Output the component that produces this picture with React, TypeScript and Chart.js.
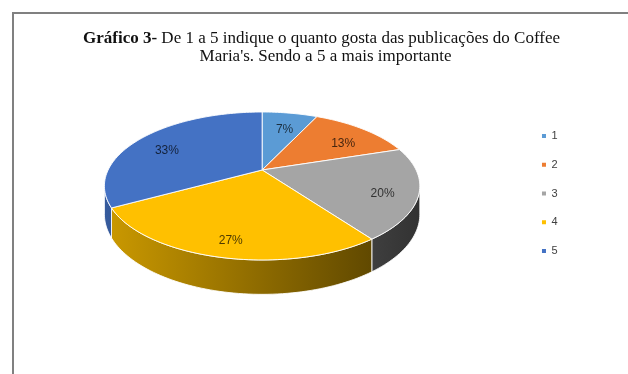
import React, { useEffect, useRef } from "react";
import { Chart, registerables } from "chart.js";

Chart.register(...registerables);

// ---- data ----
const categories = ["1", "2", "3", "4", "5"];
const values = [7, 13, 20, 27, 33];
const sliceColors = ["#5B9BD5", "#ED7D31", "#A5A5A5", "#FFC000", "#4472C4"];
const titleBold = "Gráfico 3-";
const titleLine1 = " De 1 a 5 indique o quanto gosta das publicações do Coffee";
const titleLine2 = "Maria's. Sendo a 5 a mais importante";

// ---- 3D projection parameters (relative to the arc radius) ----
const TILT = 0.458;
const PERSP = 0.216;
const DEPTH = 0.175;
const APEX_SHIFT = 0.1526;
const LABEL_R = 0.78;

function hexToRgb(h: string): number[] {
  const s = h.replace("#", "");
  return [0, 2, 4].map((i) => parseInt(s.slice(i, i + 2), 16));
}
function shade(hex: string, f: number): string {
  const [r, g, b] = hexToRgb(hex);
  return `rgb(${Math.round(r * f)},${Math.round(g * f)},${Math.round(b * f)})`;
}

const pie3d = {
  id: "pie3d",
  beforeDatasetsDraw(chart: any) {
    const meta = chart.getDatasetMeta(0);
    const arcs = meta.data as any[];
    if (!arcs.length) return false;
    const ctx: CanvasRenderingContext2D = chart.ctx;
    const R = arcs[0].outerRadius;
    const cx = arcs[0].x;
    const cy = arcs[0].y - R * APEX_SHIFT;
    const Rk = R * TILT;
    const D = R * DEPTH;
    const P = (th: number, f: number, h: number) => {
      const s = 1 / (1 - PERSP * f * Math.sin(th));
      return [cx + R * f * Math.cos(th) * s, cy + (Rk * f * Math.sin(th) + h) * s];
    };
    const vis0 = Math.asin(PERSP);
    const vis1 = Math.PI - vis0;
    ctx.save();
    // walls
    arcs.forEach((arc, i) => {
      const color = sliceColors[i];
      const t1 = Math.max(arc.startAngle, vis0);
      const t2 = Math.min(arc.endAngle, vis1);
      if (t2 <= t1) return;
      const n = Math.max(4, Math.ceil((t2 - t1) * 40));
      ctx.beginPath();
      for (let k = 0; k <= n; k++) {
        const th = t1 + ((t2 - t1) * k) / n;
        const [x, y] = P(th, 1, 0);
        if (k === 0) ctx.moveTo(x, y);
        else ctx.lineTo(x, y);
      }
      for (let k = n; k >= 0; k--) {
        const th = t1 + ((t2 - t1) * k) / n;
        const [x, y] = P(th, 1, D);
        ctx.lineTo(x, y);
      }
      ctx.closePath();
      const g = ctx.createLinearGradient(cx - R * 1.03, 0, cx + R * 1.03, 0);
      g.addColorStop(0, shade(color, 0.8));
      g.addColorStop(1, shade(color, 0.3));
      ctx.fillStyle = g;
      ctx.fill();
      ctx.strokeStyle = "rgba(255,255,255,0.85)";
      ctx.lineWidth = 1;
      ctx.stroke();
    });
    // top faces
    arcs.forEach((arc, i) => {
      const color = sliceColors[i];
      const t1 = arc.startAngle;
      const t2 = arc.endAngle;
      const n = Math.max(4, Math.ceil((t2 - t1) * 40));
      ctx.beginPath();
      const [ax, ay] = P(0, 0, 0);
      ctx.moveTo(ax, ay);
      for (let k = 0; k <= n; k++) {
        const th = t1 + ((t2 - t1) * k) / n;
        const [x, y] = P(th, 1, 0);
        ctx.lineTo(x, y);
      }
      ctx.closePath();
      ctx.fillStyle = color;
      ctx.fill();
      ctx.strokeStyle = "rgba(255,255,255,0.9)";
      ctx.lineWidth = 1;
      ctx.stroke();
    });
    // labels
    const total = values.reduce((a, b) => a + b, 0);
    ctx.font = "12px 'Liberation Sans', sans-serif";
    ctx.textAlign = "center";
    ctx.textBaseline = "middle";
    arcs.forEach((arc, i) => {
      const mid = (arc.startAngle + arc.endAngle) / 2;
      const [x, y] = P(mid, LABEL_R, 0);
      ctx.fillStyle = shade(sliceColors[i], 0.3);
      ctx.fillText(Math.round((values[i] / total) * 100) + "%", x, y + R * 0.04);
    });
    ctx.restore();
    return false;
  },
};

const deco = {
  id: "deco",
  beforeDraw(chart: any) {
    const ctx: CanvasRenderingContext2D = chart.ctx;
    ctx.save();
    ctx.strokeStyle = "#808080";
    ctx.lineWidth = 2;
    ctx.beginPath();
    ctx.moveTo(13, chart.height);
    ctx.lineTo(13, 13);
    ctx.lineTo(chart.width, 13);
    ctx.stroke();
    ctx.restore();
  },
  afterDraw(chart: any) {
    const ctx: CanvasRenderingContext2D = chart.ctx;
    const center = (13 + chart.width) / 2 + 1;
    ctx.save();
    ctx.fillStyle = "#111";
    ctx.textBaseline = "alphabetic";
    ctx.textAlign = "left";
    const bFont = "bold 17px 'Liberation Serif', serif";
    const rFont = "17px 'Liberation Serif', serif";
    ctx.font = bFont;
    const wb = ctx.measureText(titleBold).width;
    ctx.font = rFont;
    const wr = ctx.measureText(titleLine1).width;
    const x0 = center - (wb + wr) / 2;
    ctx.font = bFont;
    ctx.fillText(titleBold, x0, 43);
    ctx.font = rFont;
    ctx.fillText(titleLine1, x0 + wb, 43);
    ctx.textAlign = "center";
    ctx.fillText(titleLine2, center + 4, 61);
    ctx.restore();
  },
};

export default function App() {
  const ref = useRef<HTMLCanvasElement | null>(null);
  useEffect(() => {
    if (!ref.current) return;
    const chart = new Chart(ref.current, {
      type: "pie",
      data: {
        labels: categories,
        datasets: [
          {
            data: values,
            backgroundColor: sliceColors,
            borderWidth: 0,
            radius: 154,
          } as any,
        ],
      },
      options: {
        responsive: true,
        maintainAspectRatio: false,
        animation: false,
        layout: { padding: { top: 40, bottom: 27, left: -6.25, right: 60.4 } },
        plugins: {
          legend: {
            position: "right",
            labels: {
              boxWidth: 4,
              boxHeight: 4,
              padding: 17.75,
              color: "#404040",
              font: { family: "'Liberation Sans', sans-serif", size: 11 },
            },
          },
          tooltip: { enabled: false },
          title: { display: false },
        },
      } as any,
      plugins: [deco, pie3d] as any,
    });
    return () => chart.destroy();
  }, []);
  return (
    <div style={{ position: "absolute", left: 0, top: 0, width: 628, height: 374, background: "#fff" }}>
      <canvas ref={ref} />
    </div>
  );
}
